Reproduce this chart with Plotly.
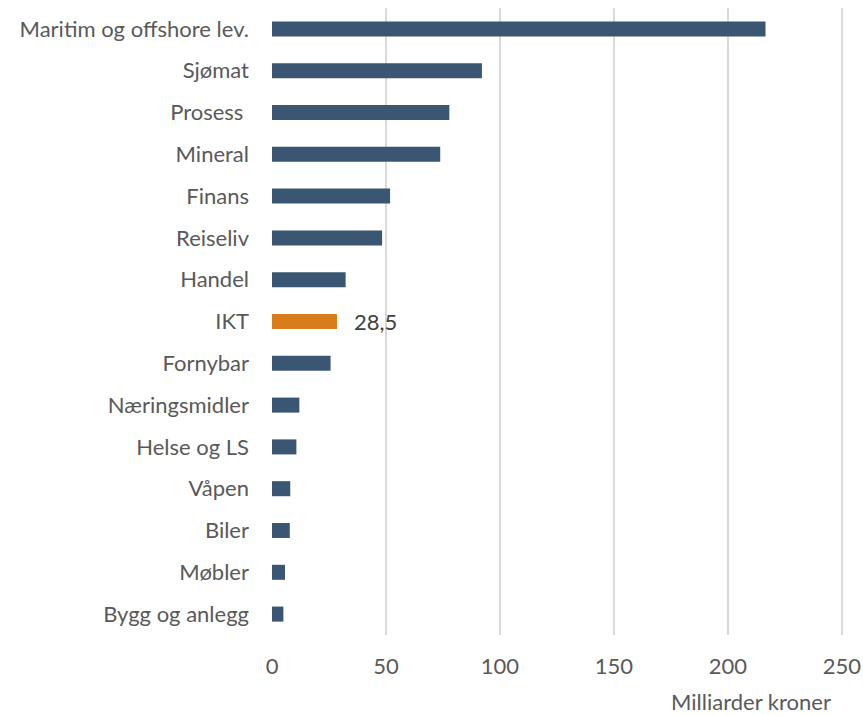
import plotly.graph_objects as go

categories = ["Maritim og offshore lev.", "Sjømat", "Prosess ", "Mineral", "Finans",
              "Reiseliv", "Handel", "IKT", "Fornybar", "Næringsmidler",
              "Helse og LS", "Våpen", "Biler", "Møbler", "Bygg og anlegg"]
values = [216.5, 92.1, 77.8, 73.8, 51.8, 48.3, 32.3, 28.5, 25.7, 12.0, 10.7, 8.0, 7.8, 5.7, 5.0]
highlight = "IKT"
highlight_label = "28,5"
x_ticks = [0, 50, 100, 150, 200, 250]
x_title = "Milliarder kroner"

BLUE = "#3B5673"
ORANGE = "#D87D19"
TEXT = "#595959"
FONT = "Lato"
FS = 22

colors = [ORANGE if c == highlight else BLUE for c in categories]

fig = go.Figure()
fig.add_trace(go.Bar(
    y=categories, x=values, orientation="h",
    marker=dict(color=colors, line=dict(width=0)),
    width=0.36, showlegend=False, hoverinfo="x+y",
))

hi = categories.index(highlight)
fig.add_annotation(x=values[hi], y=categories[hi], text=highlight_label,
                   showarrow=False, xanchor="left", xshift=15,
                   font=dict(family=FONT, size=FS, color="#404040"))
fig.add_annotation(xref="paper", yref="paper", x=1.0, y=0, xanchor="right", yanchor="top",
                   xshift=-10, yshift=-51, text=x_title, showarrow=False,
                   font=dict(family=FONT, size=FS, color=TEXT))

fig.update_layout(
    width=863, height=715,
    margin=dict(l=272, r=20, t=8, b=80),
    paper_bgcolor="white", plot_bgcolor="white",
    font=dict(family=FONT, size=FS, color=TEXT),
    xaxis=dict(range=[0, 250.5], tickvals=x_ticks, ticktext=[str(t) for t in x_ticks],
               showgrid=True, gridcolor="#D9D9D9", gridwidth=2, automargin=False,
               zeroline=False, showline=False, ticks="", ticklabelstandoff=16,
               tickfont=dict(family=FONT, size=FS, color=TEXT)),
    yaxis=dict(categoryorder="array", categoryarray=categories, autorange="reversed",
               showgrid=False, zeroline=False, showline=False, ticks="", automargin=False,
               ticklabelstandoff=22, range=[14.5, -0.5],
               tickfont=dict(family=FONT, size=FS, color=TEXT)),
    bargap=0.6,
)

fig.write_html("out.html", config={"displayModeBar": False},
               post_script="document.body.style.margin='0';document.body.style.overflow='hidden';")
